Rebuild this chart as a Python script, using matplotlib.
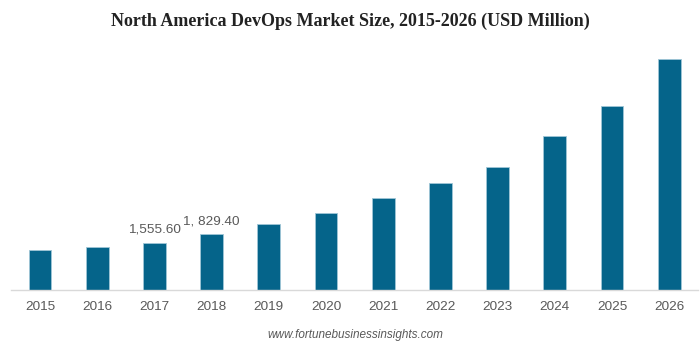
import matplotlib.pyplot as plt

# market size by year, USD million
years = ['2015', '2016', '2017', '2018', '2019', '2020',
         '2021', '2022', '2023', '2024', '2025', '2026']
values = [1302, 1400, 1555.60, 1829.40, 2165, 2516,
          3018, 3520, 4034, 5041, 6045, 7567]
# only these two bars carry a value label
labels = {2: '1,555.60', 3: '1, 829.40'}

fig = plt.figure(figsize=(7, 3.48), dpi=100)
ax = fig.add_axes([0.0163, 0.1667, 0.9806, 0.6897])

x = range(len(years))
ax.bar(x, values, width=0.4, color='#05648a', edgecolor='#9fc6d6', linewidth=0.6)

for i, txt in labels.items():
    ax.annotate(txt, (i, values[i]), xytext=(0, 5), textcoords='offset points',
                ha='center', va='bottom', fontsize=9.7, color='#595959',
                family='Liberation Sans')

ax.set_xlim(-0.5, 11.5)
ax.set_ylim(0, 7872)
ax.set_xticks(list(x))
ax.set_xticklabels(years, fontsize=9.7, color='#595959', family='Liberation Sans')
ax.tick_params(axis='x', length=0, pad=8)
ax.set_yticks([])
for side in ['top', 'right', 'left']:
    ax.spines[side].set_visible(False)
ax.spines['bottom'].set_color('#d9d9d9')
ax.spines['bottom'].set_linewidth(1)

fig.text(0.5, 0.94, 'North America DevOps Market Size, 2015-2026 (USD Million)',
         ha='center', va='center', fontsize=13, fontweight='bold',
         family='Liberation Serif', color='#222222')
fig.text(0.507, 0.037, 'www.fortunebusinessinsights.com', ha='center', va='center',
         fontsize=8.5, style='italic', color='#595959', family='Liberation Sans')

fig.savefig('out.png', dpi=100)
